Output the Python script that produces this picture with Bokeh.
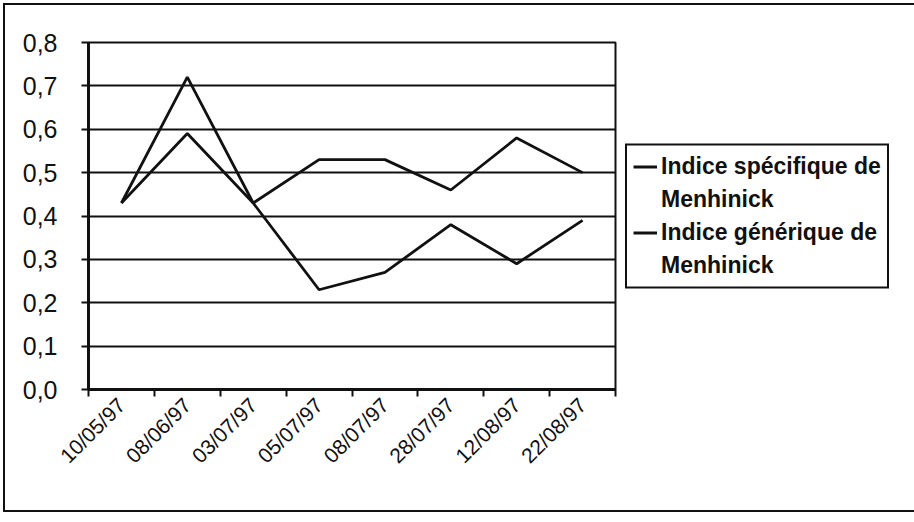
from bokeh.plotting import figure
from bokeh.models import Range1d, FixedTicker, CustomJSTickFormatter, Legend, LegendItem
from bokeh.embed import file_html
from bokeh.resources import INLINE
import math

dates = ["10/05/97", "08/06/97", "03/07/97", "05/07/97", "08/07/97", "28/07/97", "12/08/97", "22/08/97"]
specifique = [0.43, 0.72, 0.43, 0.23, 0.27, 0.38, 0.29, 0.39]
generique = [0.43, 0.59, 0.43, 0.53, 0.53, 0.46, 0.58, 0.50]
y_ticks = [0.0, 0.1, 0.2, 0.3, 0.4, 0.5, 0.6, 0.7, 0.8]
legend_lines = [["Indice spécifique de", "Menhinick"], ["Indice générique de", "Menhinick"]]

xs = [i + 0.5 for i in range(len(dates))]

p = figure(frame_width=527, frame_height=347, output_backend="svg", toolbar_location=None,
           x_range=Range1d(0, len(dates)), y_range=Range1d(0, 0.8),
           min_border_left=88, min_border_top=42, min_border_bottom=126, min_border_right=0)
p.border_fill_color = None
p.background_fill_color = None
p.styles = {"outline": "2px solid #111", "outline-offset": "-5px", "background-color": "white"}

r1 = p.line(xs, specifique, line_color="#111111", line_width=2.8)
r2 = p.line(xs, generique, line_color="#111111", line_width=2.8)
# invisible renderer used only for the second line of each legend label
blank = p.line([], [], line_alpha=0)

# axes
p.yaxis.ticker = FixedTicker(ticks=y_ticks, minor_ticks=[])
p.yaxis.formatter = CustomJSTickFormatter(code="return tick.toFixed(1).replace('.', ',');")
p.yaxis.major_label_text_font = "Liberation Sans"
p.yaxis.major_label_text_font_size = "25px"
p.yaxis.major_label_text_color = "#111111"
p.yaxis.major_label_standoff = 24
p.yaxis.axis_line_width = 3
p.yaxis.axis_line_color = "#111111"
p.yaxis.major_tick_out = 7
p.yaxis.major_tick_in = 0
p.yaxis.major_tick_line_width = 2
p.yaxis.major_tick_line_color = "#111111"

p.xaxis.ticker = FixedTicker(ticks=xs, minor_ticks=list(range(len(dates) + 1)))
p.xaxis.major_label_overrides = {x: d for x, d in zip(xs, dates)}
p.xaxis.major_label_orientation = math.pi / 4
p.xaxis.major_label_text_font = "Liberation Sans"
p.xaxis.major_label_text_font_size = "21px"
p.xaxis.major_label_text_color = "#111111"
p.xaxis.major_label_standoff = 5
p.xaxis.major_tick_line_color = None
p.xaxis.minor_tick_out = 7
p.xaxis.minor_tick_in = 0
p.xaxis.minor_tick_line_width = 2
p.xaxis.minor_tick_line_color = "#111111"
p.xaxis.axis_line_width = 3
p.xaxis.axis_line_color = "#111111"

p.xgrid.grid_line_color = None
p.ygrid.ticker = FixedTicker(ticks=y_ticks)
p.ygrid.grid_line_color = "#111111"
p.ygrid.grid_line_width = 2

p.outline_line_color = "#111111"
p.outline_line_width = 2
p.outline_line_alpha = 1

items = [
    LegendItem(label=legend_lines[0][0], renderers=[r1]),
    LegendItem(label=legend_lines[0][1], renderers=[blank]),
    LegendItem(label=legend_lines[1][0], renderers=[r2]),
    LegendItem(label=legend_lines[1][1], renderers=[blank]),
]
legend = Legend(items=items, location="center_left")
legend.label_text_font = "Liberation Sans"
legend.label_text_font_style = "bold"
legend.label_text_font_size = "23px"
legend.label_text_color = "#111111"
legend.label_height = 30
legend.glyph_height = 30
legend.glyph_width = 24
legend.label_standoff = 4
legend.spacing = 3
legend.padding = 6
legend.margin = 10
legend.border_line_color = "#111111"
legend.border_line_width = 2
legend.border_line_alpha = 1
legend.background_fill_color = "white"
legend.background_fill_alpha = 1
p.add_layout(legend, "right")

open("out.html", "w").write(file_html(p, INLINE))
